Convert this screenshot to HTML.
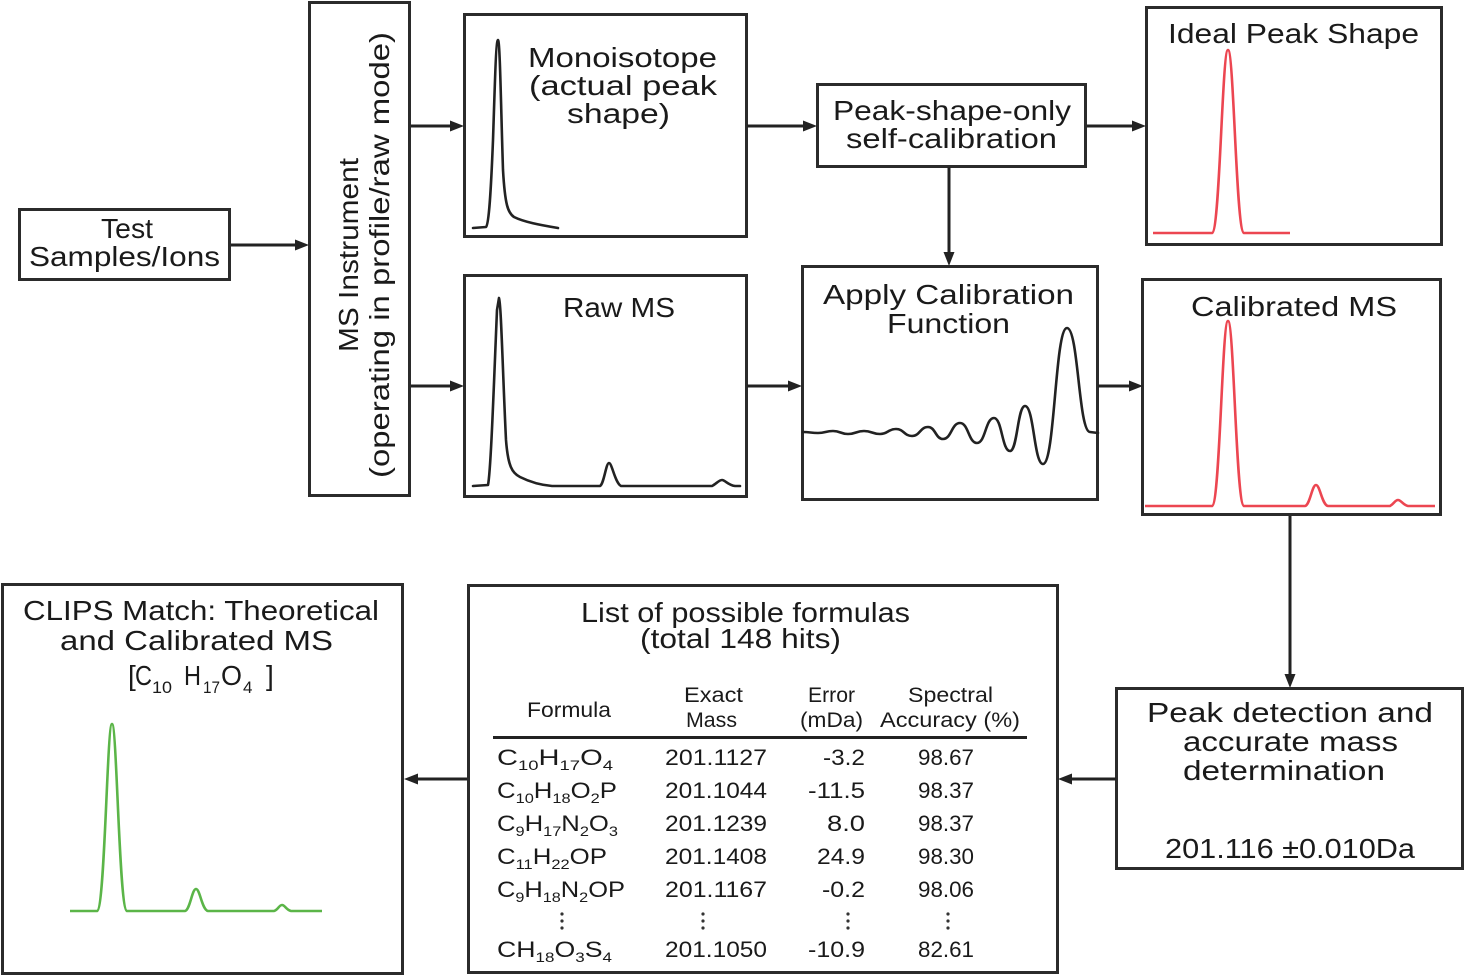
<!DOCTYPE html>
<html>
<head>
<meta charset="utf-8">
<style>
html,body{margin:0;padding:0;background:#fff;}
svg{display:block;}
text{font-family:"Liberation Sans",sans-serif;fill:#1a1a1a;}
.t{font-size:28px;}
.h{font-size:21px;}
.r{font-size:22px;}
</style>
</head>
<body>
<svg width="1465" height="976" viewBox="0 0 1465 976" xmlns="http://www.w3.org/2000/svg">
<rect x="0" y="0" width="1465" height="976" fill="#fff"/>

<!-- Boxes -->
<g fill="none" stroke="#2b2b2b" stroke-width="3">
  <rect x="19.5" y="209.5" width="210" height="70"/>
  <rect x="309.5" y="2.5" width="100" height="493"/>
  <rect x="464.5" y="14.5" width="282" height="222"/>
  <rect x="464.5" y="275.5" width="282" height="221"/>
  <rect x="817.5" y="84.5" width="268" height="82"/>
  <rect x="802.5" y="266.5" width="295" height="233"/>
  <rect x="1146.5" y="7.5" width="295" height="237"/>
  <rect x="1142.5" y="279.5" width="298" height="235"/>
  <rect x="1116.5" y="688.5" width="346" height="180"/>
  <rect x="468.5" y="585.5" width="589" height="387"/>
  <rect x="2.5" y="584.5" width="400" height="389"/>
</g>

<!-- Connectors -->
<g stroke="#222" stroke-width="3" fill="none">
  <line x1="231" y1="245" x2="298" y2="245"/>
  <line x1="411" y1="126" x2="455" y2="126"/>
  <line x1="411" y1="386" x2="455" y2="386"/>
  <line x1="747" y1="126" x2="808" y2="126"/>
  <line x1="1087" y1="126" x2="1138" y2="126"/>
  <line x1="949" y1="167" x2="949" y2="258"/>
  <line x1="747" y1="386" x2="793" y2="386"/>
  <line x1="1098" y1="386" x2="1135" y2="386"/>
  <line x1="1290" y1="516" x2="1290" y2="680"/>
  <line x1="1116" y1="779" x2="1066" y2="779"/>
  <line x1="467" y1="779" x2="412" y2="779"/>
</g>
<g fill="#222">
  <polygon points="309,245 295,239.5 295,250.5"/>
  <polygon points="464,126 450,120.5 450,131.5"/>
  <polygon points="464,386 450,380.5 450,391.5"/>
  <polygon points="817,126 803,120.5 803,131.5"/>
  <polygon points="1146,126 1132,120.5 1132,131.5"/>
  <polygon points="949,266 943.5,252 954.5,252"/>
  <polygon points="802,386 788,380.5 788,391.5"/>
  <polygon points="1143,386 1129,380.5 1129,391.5"/>
  <polygon points="1290,688 1284.5,674 1295.5,674"/>
  <polygon points="1058,779 1072,773.5 1072,784.5"/>
  <polygon points="404,779 418,773.5 418,784.5"/>
</g>

<!-- Black plots -->
<g fill="none" stroke="#222" stroke-width="2.6" stroke-linejoin="round" stroke-linecap="round">
  <path d="M473,228 L486,227 C489,224 491,190 493,140 C495,80 496,40 498,40 C500,40 501,110 503,170 C505,205 508,213 514,217 C524,222 540,225 558,228"/>
  <path d="M473,486 L488,485 C491,470 494,380 497,310 L499,298 C501,300 503,380 506,440 C508,466 512,473 520,477 C530,482 540,485 552,486 L600,486 C604,484 606,463 609,463 C612,463 615,483 621,486 L712,486 C716,484 719,480 722,480 C725,480 728,485 735,486 L740,486"/>
  <path d="M803,432 C810.5,432 810.5,433 818,433 C825.5,433 825.5,431 833,431 C840.5,431 840.5,434 848,434 C856,434 856,431 864,431 C872,431 872,434 880,434 C888,434 888,429 896,429 C904,429 904,436 912,436 C920,436 920,427 928,427 C935.5,427 935.5,439 943,439 C951.5,439 951.5,423 960,423 C968.5,423 968.5,443 977,443 C985.5,443 985.5,418 994,418 C1002,418 1002,451 1010,451 C1017.5,451 1017.5,406 1025,406 C1034,406 1034,464 1043,464 C1055,464 1055,328 1067,328 C1078.5,328 1078.5,432 1090,432 L1098,433"/>
</g>

<!-- Red plots -->
<g fill="none" stroke="#ec4651" stroke-width="2.6" stroke-linejoin="round">
  <path d="M1153,233 L1212,233 C1220,232 1222,50 1228,50 C1234,50 1236,232 1244,233 L1290,233"/>
  <path d="M1145,506 L1212,506 C1220,505 1222,321 1228,321 C1234,321 1236,505 1244,506 L1305,506 C1310,505 1312,485 1316,485 C1320,485 1322,505 1328,506 L1390,506 C1394,504 1395,500 1398,500 C1401,500 1403,505 1408,506 L1435,506"/>
</g>

<!-- Green plot -->
<path fill="none" stroke="#5bb548" stroke-width="2.6" stroke-linejoin="round" d="M70,911 L97,911 C105,910 107,724 112,724 C117,724 119,910 127,911 L185,911 C190,910 192,889 196,889 C200,889 202,910 208,911 L274,911 C278,910 279,905 282,905 C285,905 286,910 291,911 L322,911"/>

<!-- Labels -->
<text class="t" x="127" y="238" text-anchor="middle" textLength="52" lengthAdjust="spacingAndGlyphs">Test</text>
<text class="t" x="124.5" y="266" text-anchor="middle" textLength="191" lengthAdjust="spacingAndGlyphs">Samples/Ions</text>

<text class="t" transform="translate(358,255) rotate(-90)" text-anchor="middle" textLength="194" lengthAdjust="spacingAndGlyphs">MS Instrument</text>
<text class="t" transform="translate(389,255) rotate(-90)" text-anchor="middle" textLength="446" lengthAdjust="spacingAndGlyphs">(operating in profile/raw mode)</text>

<text class="t" x="622.5" y="67" text-anchor="middle" textLength="189" lengthAdjust="spacingAndGlyphs">Monoisotope</text>
<text class="t" x="623" y="95" text-anchor="middle" textLength="188" lengthAdjust="spacingAndGlyphs">(actual peak</text>
<text class="t" x="618.5" y="123" text-anchor="middle" textLength="103" lengthAdjust="spacingAndGlyphs">shape)</text>

<text class="t" x="619" y="317" text-anchor="middle" textLength="112" lengthAdjust="spacingAndGlyphs">Raw MS</text>

<text class="t" x="952" y="120" text-anchor="middle" textLength="238" lengthAdjust="spacingAndGlyphs">Peak-shape-only</text>
<text class="t" x="951.5" y="148" text-anchor="middle" textLength="211" lengthAdjust="spacingAndGlyphs">self-calibration</text>

<text class="t" x="948.5" y="304" text-anchor="middle" textLength="251" lengthAdjust="spacingAndGlyphs">Apply Calibration</text>
<text class="t" x="948.5" y="333" text-anchor="middle" textLength="123" lengthAdjust="spacingAndGlyphs">Function</text>

<text class="t" x="1293.5" y="43" text-anchor="middle" textLength="251" lengthAdjust="spacingAndGlyphs">Ideal Peak Shape</text>
<text class="t" x="1294" y="316" text-anchor="middle" textLength="206" lengthAdjust="spacingAndGlyphs">Calibrated MS</text>

<text class="t" x="1290" y="722" text-anchor="middle" textLength="286" lengthAdjust="spacingAndGlyphs">Peak detection and</text>
<text class="t" x="1290.5" y="751" text-anchor="middle" textLength="215" lengthAdjust="spacingAndGlyphs">accurate mass</text>
<text class="t" x="1284" y="780" text-anchor="middle" textLength="202" lengthAdjust="spacingAndGlyphs">determination</text>
<text class="t" x="1290" y="858" text-anchor="middle" textLength="250" lengthAdjust="spacingAndGlyphs">201.116 ±0.010Da</text>

<text class="t" x="201" y="620" text-anchor="middle" textLength="356" lengthAdjust="spacingAndGlyphs">CLIPS Match: Theoretical</text>
<text class="t" x="196.5" y="650" text-anchor="middle" textLength="273" lengthAdjust="spacingAndGlyphs">and Calibrated MS</text>
<text class="t" x="128" y="685">[</text>
<text class="t" x="135" y="685" textLength="17" lengthAdjust="spacingAndGlyphs">C</text>
<text x="152" y="693" font-size="17" textLength="20" lengthAdjust="spacingAndGlyphs">10</text>
<text class="t" x="184" y="685" textLength="17" lengthAdjust="spacingAndGlyphs">H</text>
<text x="203" y="693" font-size="17" textLength="17" lengthAdjust="spacingAndGlyphs">17</text>
<text class="t" x="221" y="685" textLength="21" lengthAdjust="spacingAndGlyphs">O</text>
<text x="243" y="693" font-size="17">4</text>
<text class="t" x="266" y="685">]</text>

<text class="t" x="745.5" y="622" text-anchor="middle" textLength="329" lengthAdjust="spacingAndGlyphs">List of possible formulas</text>
<text class="t" x="740.5" y="648" text-anchor="middle" textLength="201" lengthAdjust="spacingAndGlyphs">(total 148 hits)</text>

<!-- Table header -->
<text class="h" x="569" y="717" text-anchor="middle" textLength="84" lengthAdjust="spacingAndGlyphs">Formula</text>
<text class="h" x="713.5" y="702" text-anchor="middle" textLength="59" lengthAdjust="spacingAndGlyphs">Exact</text>
<text class="h" x="711.5" y="727" text-anchor="middle" textLength="51" lengthAdjust="spacingAndGlyphs">Mass</text>
<text class="h" x="831.5" y="702" text-anchor="middle" textLength="47" lengthAdjust="spacingAndGlyphs">Error</text>
<text class="h" x="831.5" y="727" text-anchor="middle" textLength="63" lengthAdjust="spacingAndGlyphs">(mDa)</text>
<text class="h" x="950.5" y="702" text-anchor="middle" textLength="85" lengthAdjust="spacingAndGlyphs">Spectral</text>
<text class="h" x="950" y="727" text-anchor="middle" textLength="140" lengthAdjust="spacingAndGlyphs">Accuracy (%)</text>
<line x1="493" y1="737.5" x2="1027" y2="737.5" stroke="#222" stroke-width="3"/>

<!-- Formulas -->
<text class="r" x="497" y="765" textLength="116" lengthAdjust="spacingAndGlyphs">C<tspan font-size="14" dy="5">10</tspan><tspan dy="-5">H</tspan><tspan font-size="14" dy="5">17</tspan><tspan dy="-5">O</tspan><tspan font-size="14" dy="5">4</tspan></text>
<text class="r" x="497" y="798" textLength="120" lengthAdjust="spacingAndGlyphs">C<tspan font-size="14" dy="5">10</tspan><tspan dy="-5">H</tspan><tspan font-size="14" dy="5">18</tspan><tspan dy="-5">O</tspan><tspan font-size="14" dy="5">2</tspan><tspan dy="-5">P</tspan></text>
<text class="r" x="497" y="831" textLength="121" lengthAdjust="spacingAndGlyphs">C<tspan font-size="14" dy="5">9</tspan><tspan dy="-5">H</tspan><tspan font-size="14" dy="5">17</tspan><tspan dy="-5">N</tspan><tspan font-size="14" dy="5">2</tspan><tspan dy="-5">O</tspan><tspan font-size="14" dy="5">3</tspan></text>
<text class="r" x="497" y="864" textLength="110" lengthAdjust="spacingAndGlyphs">C<tspan font-size="14" dy="5">11</tspan><tspan dy="-5">H</tspan><tspan font-size="14" dy="5">22</tspan><tspan dy="-5">OP</tspan></text>
<text class="r" x="497" y="897" textLength="128" lengthAdjust="spacingAndGlyphs">C<tspan font-size="14" dy="5">9</tspan><tspan dy="-5">H</tspan><tspan font-size="14" dy="5">18</tspan><tspan dy="-5">N</tspan><tspan font-size="14" dy="5">2</tspan><tspan dy="-5">OP</tspan></text>
<text class="r" x="497" y="957" textLength="115" lengthAdjust="spacingAndGlyphs">CH<tspan font-size="14" dy="5">18</tspan><tspan dy="-5">O</tspan><tspan font-size="14" dy="5">3</tspan><tspan dy="-5">S</tspan><tspan font-size="14" dy="5">4</tspan></text>

<!-- Exact masses -->
<text class="r" x="665" y="765" textLength="102" lengthAdjust="spacingAndGlyphs">201.1127</text>
<text class="r" x="665" y="798" textLength="102" lengthAdjust="spacingAndGlyphs">201.1044</text>
<text class="r" x="665" y="831" textLength="102" lengthAdjust="spacingAndGlyphs">201.1239</text>
<text class="r" x="665" y="864" textLength="102" lengthAdjust="spacingAndGlyphs">201.1408</text>
<text class="r" x="665" y="897" textLength="102" lengthAdjust="spacingAndGlyphs">201.1167</text>
<text class="r" x="665" y="957" textLength="102" lengthAdjust="spacingAndGlyphs">201.1050</text>

<!-- Errors -->
<text class="r" x="865" y="765" text-anchor="end" textLength="42" lengthAdjust="spacingAndGlyphs">-3.2</text>
<text class="r" x="865" y="798" text-anchor="end" textLength="57" lengthAdjust="spacingAndGlyphs">-11.5</text>
<text class="r" x="865" y="831" text-anchor="end" textLength="38" lengthAdjust="spacingAndGlyphs">8.0</text>
<text class="r" x="865" y="864" text-anchor="end" textLength="48" lengthAdjust="spacingAndGlyphs">24.9</text>
<text class="r" x="865" y="897" text-anchor="end" textLength="43" lengthAdjust="spacingAndGlyphs">-0.2</text>
<text class="r" x="865" y="957" text-anchor="end" textLength="57" lengthAdjust="spacingAndGlyphs">-10.9</text>

<!-- Spectral accuracy -->
<text class="r" x="918" y="765" textLength="56" lengthAdjust="spacingAndGlyphs">98.67</text>
<text class="r" x="918" y="798" textLength="56" lengthAdjust="spacingAndGlyphs">98.37</text>
<text class="r" x="918" y="831" textLength="56" lengthAdjust="spacingAndGlyphs">98.37</text>
<text class="r" x="918" y="864" textLength="56" lengthAdjust="spacingAndGlyphs">98.30</text>
<text class="r" x="918" y="897" textLength="56" lengthAdjust="spacingAndGlyphs">98.06</text>
<text class="r" x="918" y="957" textLength="56" lengthAdjust="spacingAndGlyphs">82.61</text>

<!-- Vertical ellipses -->
<g fill="#333">
  <circle cx="562" cy="914" r="1.6"/><circle cx="562" cy="921" r="1.6"/><circle cx="562" cy="928" r="1.6"/>
  <circle cx="703" cy="914" r="1.6"/><circle cx="703" cy="921" r="1.6"/><circle cx="703" cy="928" r="1.6"/>
  <circle cx="848" cy="914" r="1.6"/><circle cx="848" cy="921" r="1.6"/><circle cx="848" cy="928" r="1.6"/>
  <circle cx="948" cy="914" r="1.6"/><circle cx="948" cy="921" r="1.6"/><circle cx="948" cy="928" r="1.6"/>
</g>
</svg>
</body>
</html>
